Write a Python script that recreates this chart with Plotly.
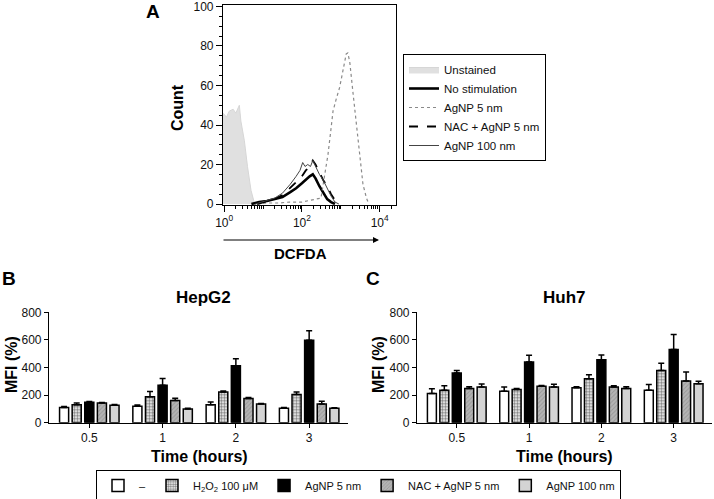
import plotly.graph_objects as go

# ---------------- Panel A: flow cytometry histograms (x in log10 units) ----------------
unstained_log = [-0.03, 0.06, 0.13, 0.23, 0.30, 0.39, 0.43, 0.52, 0.60, 0.69, 0.77, 0.82]
unstained_cnt = [46, 44, 47, 48, 46, 50, 42, 32, 19, 7, 1, 0]

nostim_log = [0.70, 0.9, 1.1, 1.3, 1.5, 1.7, 1.85, 2.0, 2.1, 2.2, 2.28, 2.35, 2.45, 2.55, 2.65, 2.75, 2.85]
nostim_cnt = [0, 1, 1.5, 2.5, 3.5, 6, 8, 10.5, 12.5, 14, 15, 13, 9, 5.5, 2.5, 1, 0]

ag5_log = [0.85, 1.08, 1.4, 1.68, 2.0, 2.28, 2.49, 2.58, 2.67, 2.73, 2.80, 2.88, 2.97, 3.05,
           3.14, 3.18, 3.23, 3.31, 3.40, 3.48, 3.57, 3.66, 3.72]
ag5_cnt = [0, 0.5, 0.5, 1, 1, 2, 3, 14, 25, 35, 47, 53, 59, 67, 76, 76.5, 72, 57, 40, 24, 10, 3, 0]

nac_log = [0.85, 1.1, 1.3, 1.5, 1.7, 1.85, 2.0, 2.1, 2.2, 2.28, 2.35, 2.45, 2.55, 2.65, 2.75, 2.85, 2.95]
nac_cnt = [0, 1.5, 2.5, 4.5, 8, 11, 14, 17, 19, 22, 20, 16, 12, 9, 5, 2, 0]

ag100_log = [0.8, 1.1, 1.3, 1.5, 1.7, 1.85, 1.95, 2.02, 2.08, 2.15, 2.22, 2.28, 2.35, 2.45,
             2.55, 2.65, 2.75, 2.85, 2.95]
ag100_cnt = [0, 2, 3, 5.5, 10, 14, 17, 21, 19, 20, 19, 22, 19, 15, 12, 8, 4, 1, 0]

# ---------------- Panels B, C: MFI bars ----------------
times = ["0.5", "1", "2", "3"]
series_names = ["–", "H<sub>2</sub>O<sub>2</sub> 100 μM", "AgNP 5 nm", "NAC + AgNP 5 nm", "AgNP 100 nm"]

hep_vals = [
    [110, 120, 130, 105],
    [130, 188, 222, 205],
    [148, 272, 412, 597],
    [142, 160, 175, 135],
    [127, 100, 135, 105],
]
hep_errs = [
    [8, 8, 20, 5],
    [12, 38, 8, 18],
    [6, 48, 52, 70],
    [5, 18, 8, 20],
    [4, 4, 4, 4],
]
huh_vals = [
    [211, 228, 254, 235],
    [235, 240, 319, 379],
    [360, 439, 456, 530],
    [247, 264, 259, 302],
    [259, 259, 247, 283],
]
huh_errs = [
    [35, 30, 6, 42],
    [32, 8, 28, 52],
    [18, 50, 35, 110],
    [14, 6, 8, 65],
    [22, 20, 14, 18],
]

FONT = "Arial, Liberation Sans, sans-serif"
W, H = 714, 499


def px_x(p):
    return p / W


def px_y(p):
    return 1 - p / H


fig = go.Figure()

# histograms
hist_specs = [
    ("Unstained", unstained_log, unstained_cnt, dict(color="#d6d6d6", width=1), "tozeroy"),
    ("No stimulation", nostim_log, nostim_cnt, dict(color="black", width=2.6), None),
    ("AgNP 5 nm", ag5_log, ag5_cnt, dict(color="#8a8a8a", width=1.2, dash="dot"), None),
    ("NAC + AgNP 5 nm", nac_log, nac_cnt, dict(color="black", width=1.8, dash="dash"), None),
    ("AgNP 100 nm", ag100_log, ag100_cnt, dict(color="#444444", width=1), None),
]
for name, lg, cnt, line, fill in hist_specs:
    kw = {}
    if fill:
        kw = dict(fill=fill, fillcolor="#e0e0e0")
    fig.add_trace(go.Scatter(
        x=[10 ** v for v in lg], y=cnt, mode="lines", name=name, line=line,
        xaxis="x", yaxis="y", legend="legend", **kw))

# bars
bar_styles = [
    dict(color="white", line=dict(color="black", width=1.5)),
    dict(color="white", line=dict(color="black", width=1.5),
         pattern=dict(shape=".", fgcolor="black", bgcolor="white", size=3, solidity=0.55)),
    dict(color="black", line=dict(color="black", width=1.5)),
    dict(color="#a8a8a8", line=dict(color="black", width=1.5),
         pattern=dict(shape="/", fgcolor="#7a7a7a", bgcolor="#b4b4b4", size=3, solidity=0.3)),
    dict(color="#d4d4d4", line=dict(color="black", width=1.5)),
]

for i in range(5):
    for vals, errs, xa, ya, show in [(hep_vals, hep_errs, "x2", "y2", True),
                                     (huh_vals, huh_errs, "x3", "y3", False)]:
        fig.add_trace(go.Bar(
            x=times, y=vals[i], name=series_names[i], marker=bar_styles[i],
            error_y=dict(type="data", array=errs[i], arrayminus=[0] * 4, symmetric=False,
                         color="black", thickness=1.5, width=3),
            xaxis=xa, yaxis=ya, showlegend=show, legend="legend2"))

axis_common = dict(showline=True, linecolor="black", linewidth=1.2, ticks="outside",
                   tickcolor="black", tickfont=dict(family=FONT, size=12, color="#111"),
                   showgrid=False, zeroline=False, automargin=False,
                   ticklabeloverflow="allow")

minor_vals = [m * 10 ** d for d in range(0, 5) for m in range(2, 11)]

fig.update_layout(
    width=W, height=H,
    margin=dict(l=0, r=0, t=0, b=0, pad=0, autoexpand=False),
    paper_bgcolor="white", plot_bgcolor="white",
    font=dict(family=FONT, color="black"),
    barmode="group", bargap=0.14, bargroupgap=0.28,
    xaxis=dict(**axis_common, type="log", domain=[px_x(223), px_x(396)],
               range=[-0.03, 4.42], anchor="y", mirror=True,
               tickvals=[1, 100, 10000],
               ticktext=["10<sup>0</sup>", "10<sup>2</sup>", "10<sup>4</sup>"],
               ticklen=6,
               minor=dict(tickmode="array", tickvals=minor_vals, ticks="outside",
                          ticklen=3, tickcolor="black")),
    yaxis=dict(**axis_common, domain=[px_y(205), px_y(4.5)], range=[-0.5, 101],
               anchor="x", mirror=True, tickvals=[0, 20, 40, 60, 80, 100], ticklen=6,
               minor=dict(dtick=5, ticks="outside", ticklen=3, tickcolor="black")),
    xaxis2=dict(**axis_common, domain=[px_x(49), px_x(348)], range=[-0.55, 3.53],
                anchor="y2", ticklen=4),
    yaxis2=dict(**axis_common, domain=[px_y(422.7), px_y(312.3)], range=[0, 800],
                anchor="x2", tickvals=[0, 200, 400, 600, 800], ticklen=4),
    xaxis3=dict(**axis_common, domain=[px_x(417), px_x(712)], range=[-0.55, 3.53],
                anchor="y3", ticklen=4),
    yaxis3=dict(**axis_common, domain=[px_y(422.7), px_y(312.3)], range=[0, 800],
                anchor="x3", tickvals=[0, 200, 400, 600, 800], ticklen=4),
    legend=dict(x=px_x(403), y=px_y(54), xanchor="left", yanchor="top",
                bordercolor="black", borderwidth=1, bgcolor="white",
                font=dict(family=FONT, size=11.5, color="#111"), tracegroupgap=0),
    legend2=dict(orientation="h", x=px_x(96), y=px_y(470), xanchor="left", yanchor="top",
                 bordercolor="black", borderwidth=1, bgcolor="white", itemwidth=32,
                 font=dict(family=FONT, size=11, color="#111")),
)

ann = []


def text(x, y, s, size, bold=True, angle=0):
    ann.append(dict(x=px_x(x), y=px_y(y), xref="paper", yref="paper", text=f"<b>{s}</b>" if bold else s,
                    showarrow=False, textangle=angle, xanchor="center", yanchor="middle",
                    font=dict(family=FONT, size=size, color="black")))


text(153, 11, "A", 19)
text(9, 278, "B", 19)
text(373, 278, "C", 19)
text(177, 108, "Count", 16, angle=-90)
text(300, 254, "DCFDA", 15)
text(203, 297, "HepG2", 17)
text(564, 297, "Huh7", 17)
text(11, 365, "MFI (%)", 16, angle=-90)
text(378, 365, "MFI (%)", 16, angle=-90)
text(199, 456, "Time (hours)", 16)
text(564, 456, "Time (hours)", 16)

# arrow under DCFDA axis
ann.append(dict(x=px_x(379), y=px_y(240), xref="paper", yref="paper", ax=-157, ay=0,
                axref="pixel", ayref="pixel", text="", showarrow=True, arrowhead=2,
                arrowsize=1, arrowwidth=1.2, arrowcolor="black"))

fig.update_layout(annotations=ann)

fig.write_html("out.html", config={"displayModeBar": False},
               post_script="document.body.style.margin='0';document.body.style.overflow='hidden';")
